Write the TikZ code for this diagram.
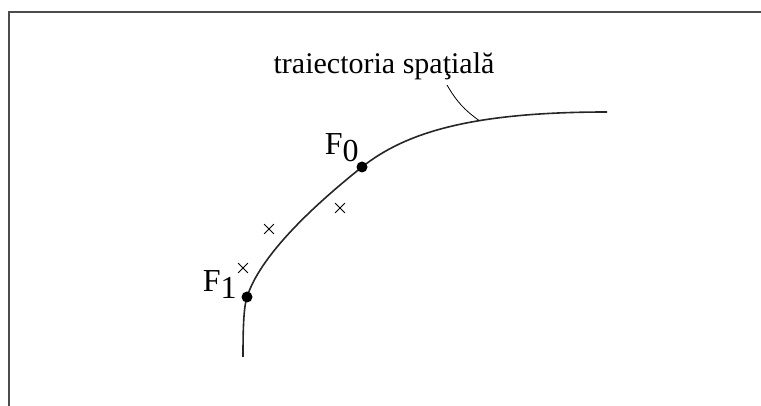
\documentclass[tikz,border=0pt]{standalone}
\usepackage{fontspec}
\setmainfont{Liberation Serif}
\usetikzlibrary{positioning,shapes.misc}

\begin{document}
\begin{tikzpicture}[
    x=0.5pt, y=-0.5pt,
    every node/.style={font=\fontsize{15}{17}\selectfont},
    traj/.style={line width=0.8pt, black!85},
    punct/.style={circle, fill=black, inner sep=0pt, minimum size=5.5pt},
    estim/.style={cross out, draw, thin, inner sep=0pt, minimum size=4.5pt},
    flab/.style={inner sep=0pt, font=\fontsize{16}{18}\selectfont}
  ]
    \useasboundingbox (0,0) rectangle (761,406);
    % chenarul
    \draw[line width=1pt, black!70] (9,406) -- (9,12) -- (761,12);

    % traiectoria
    \coordinate (F1) at (247,297);
    \coordinate (F0) at (362,167);
    \draw[traj] (243,357) .. controls (243,330) and (243.5,308) .. (F1)
      .. controls (262,250) and (327,195) .. (F0)
      .. controls (405,133) and (470,112) .. (607,112)
      coordinate[pos=0.62] (tp);

    \node[punct] (f1) at (F1) {};
    \node[punct] (f0) at (F0) {};
    \node[flab, anchor=south east] (lf0) at ([shift={(-3,-5)}]f0.center) {F\raisebox{-0.45ex}{0}};
    \node[flab, anchor=south east] (lf1) at ([shift={(-10,2)}]f1.center) {F\raisebox{-0.45ex}{1}};

    \node[estim] (x1) at (243,268) {};
    \node[estim] (x2) at (269,229) {};
    \node[estim] (x3) at (340,208) {};

    \node (eticheta) at (384,66) {traiectoria spa\c{t}ial\u{a}};
    \coordinate (lead) at (447,85);
    \draw[thin] (lead) to[bend right=12] (tp);
  \end{tikzpicture}
\end{document}
